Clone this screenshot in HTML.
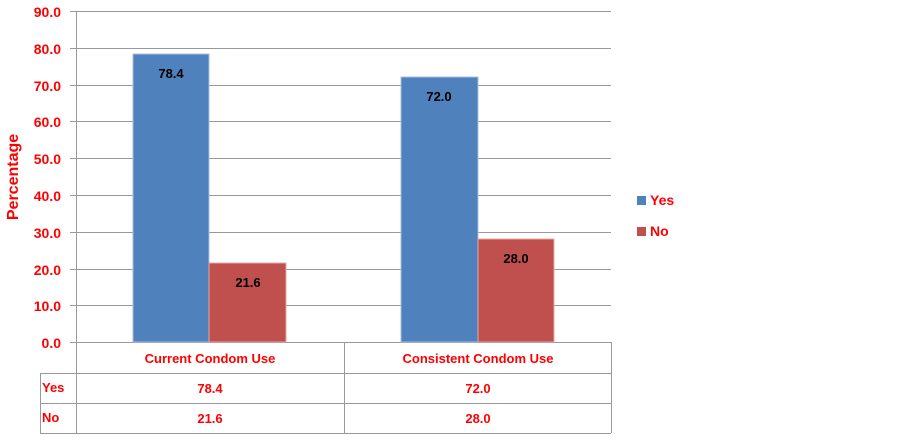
<!DOCTYPE html><html><head><style>body{margin:0;background:#fff}</style></head><body>
<svg width="899" height="436" xmlns="http://www.w3.org/2000/svg" font-family="Liberation Sans, sans-serif" font-weight="bold">
<g stroke="#999" stroke-width="1">
<line x1="70" y1="11.5" x2="611" y2="11.5"/><line x1="70" y1="48.5" x2="611" y2="48.5"/><line x1="70" y1="85.5" x2="611" y2="85.5"/><line x1="70" y1="121.5" x2="611" y2="121.5"/><line x1="70" y1="158.5" x2="611" y2="158.5"/><line x1="70" y1="195.5" x2="611" y2="195.5"/><line x1="70" y1="232.5" x2="611" y2="232.5"/><line x1="70" y1="269.5" x2="611" y2="269.5"/><line x1="70" y1="305.5" x2="611" y2="305.5"/><line x1="70" y1="342.5" x2="611" y2="342.5"/>
<line x1="76.5" y1="11" x2="76.5" y2="433"/><line x1="344.5" y1="342" x2="344.5" y2="433"/><line x1="611.5" y1="342" x2="611.5" y2="433"/>
<line x1="40" y1="373.5" x2="611" y2="373.5"/><line x1="40" y1="403.5" x2="611" y2="403.5"/><line x1="40" y1="433.5" x2="611" y2="433.5"/><line x1="40.5" y1="373" x2="40.5" y2="433"/>
</g>
<rect x="133" y="54" width="76" height="288" fill="#4f81bd" stroke="#a7bfdf" stroke-width="1"/><rect x="209" y="263" width="77" height="79" fill="#c0504d" stroke="#e0a8a6" stroke-width="1"/>
<rect x="401" y="77" width="77" height="265" fill="#4f81bd" stroke="#a7bfdf" stroke-width="1"/><rect x="478" y="239" width="76" height="103" fill="#c0504d" stroke="#e0a8a6" stroke-width="1"/>
<g font-size="13" text-anchor="middle" fill="#000"><text x="171" y="78">78.4</text><text x="248" y="287">21.6</text><text x="439" y="101">72.0</text><text x="516" y="263">28.0</text></g>
<g font-size="14" text-anchor="end" fill="#f00"><text x="61" y="17">90.0</text><text x="61" y="54">80.0</text><text x="61" y="91">70.0</text><text x="61" y="127">60.0</text><text x="61" y="164">50.0</text><text x="61" y="201">40.0</text><text x="61" y="238">30.0</text><text x="61" y="275">20.0</text><text x="61" y="311">10.0</text><text x="61" y="348">0.0</text></g>
<g font-size="13" fill="#f00" text-anchor="middle"><text x="210" y="363">Current Condom Use</text><text x="478" y="363">Consistent Condom Use</text><text x="210" y="393">78.4</text><text x="478" y="393">72.0</text><text x="210" y="423">21.6</text><text x="478" y="423">28.0</text></g>
<g font-size="13" fill="#f00"><text x="42" y="392">Yes</text><text x="42" y="422">No</text></g>
<text transform="translate(18,177) rotate(-90)" font-size="16" fill="#f00" text-anchor="middle">Percentage</text>
<rect x="637" y="196" width="9" height="9" fill="#4f81bd"/><text x="650" y="205" font-size="14" fill="#f00">Yes</text>
<rect x="637" y="227" width="9" height="9" fill="#c0504d"/><text x="650" y="236" font-size="14" fill="#f00">No</text>
</svg></body></html>
